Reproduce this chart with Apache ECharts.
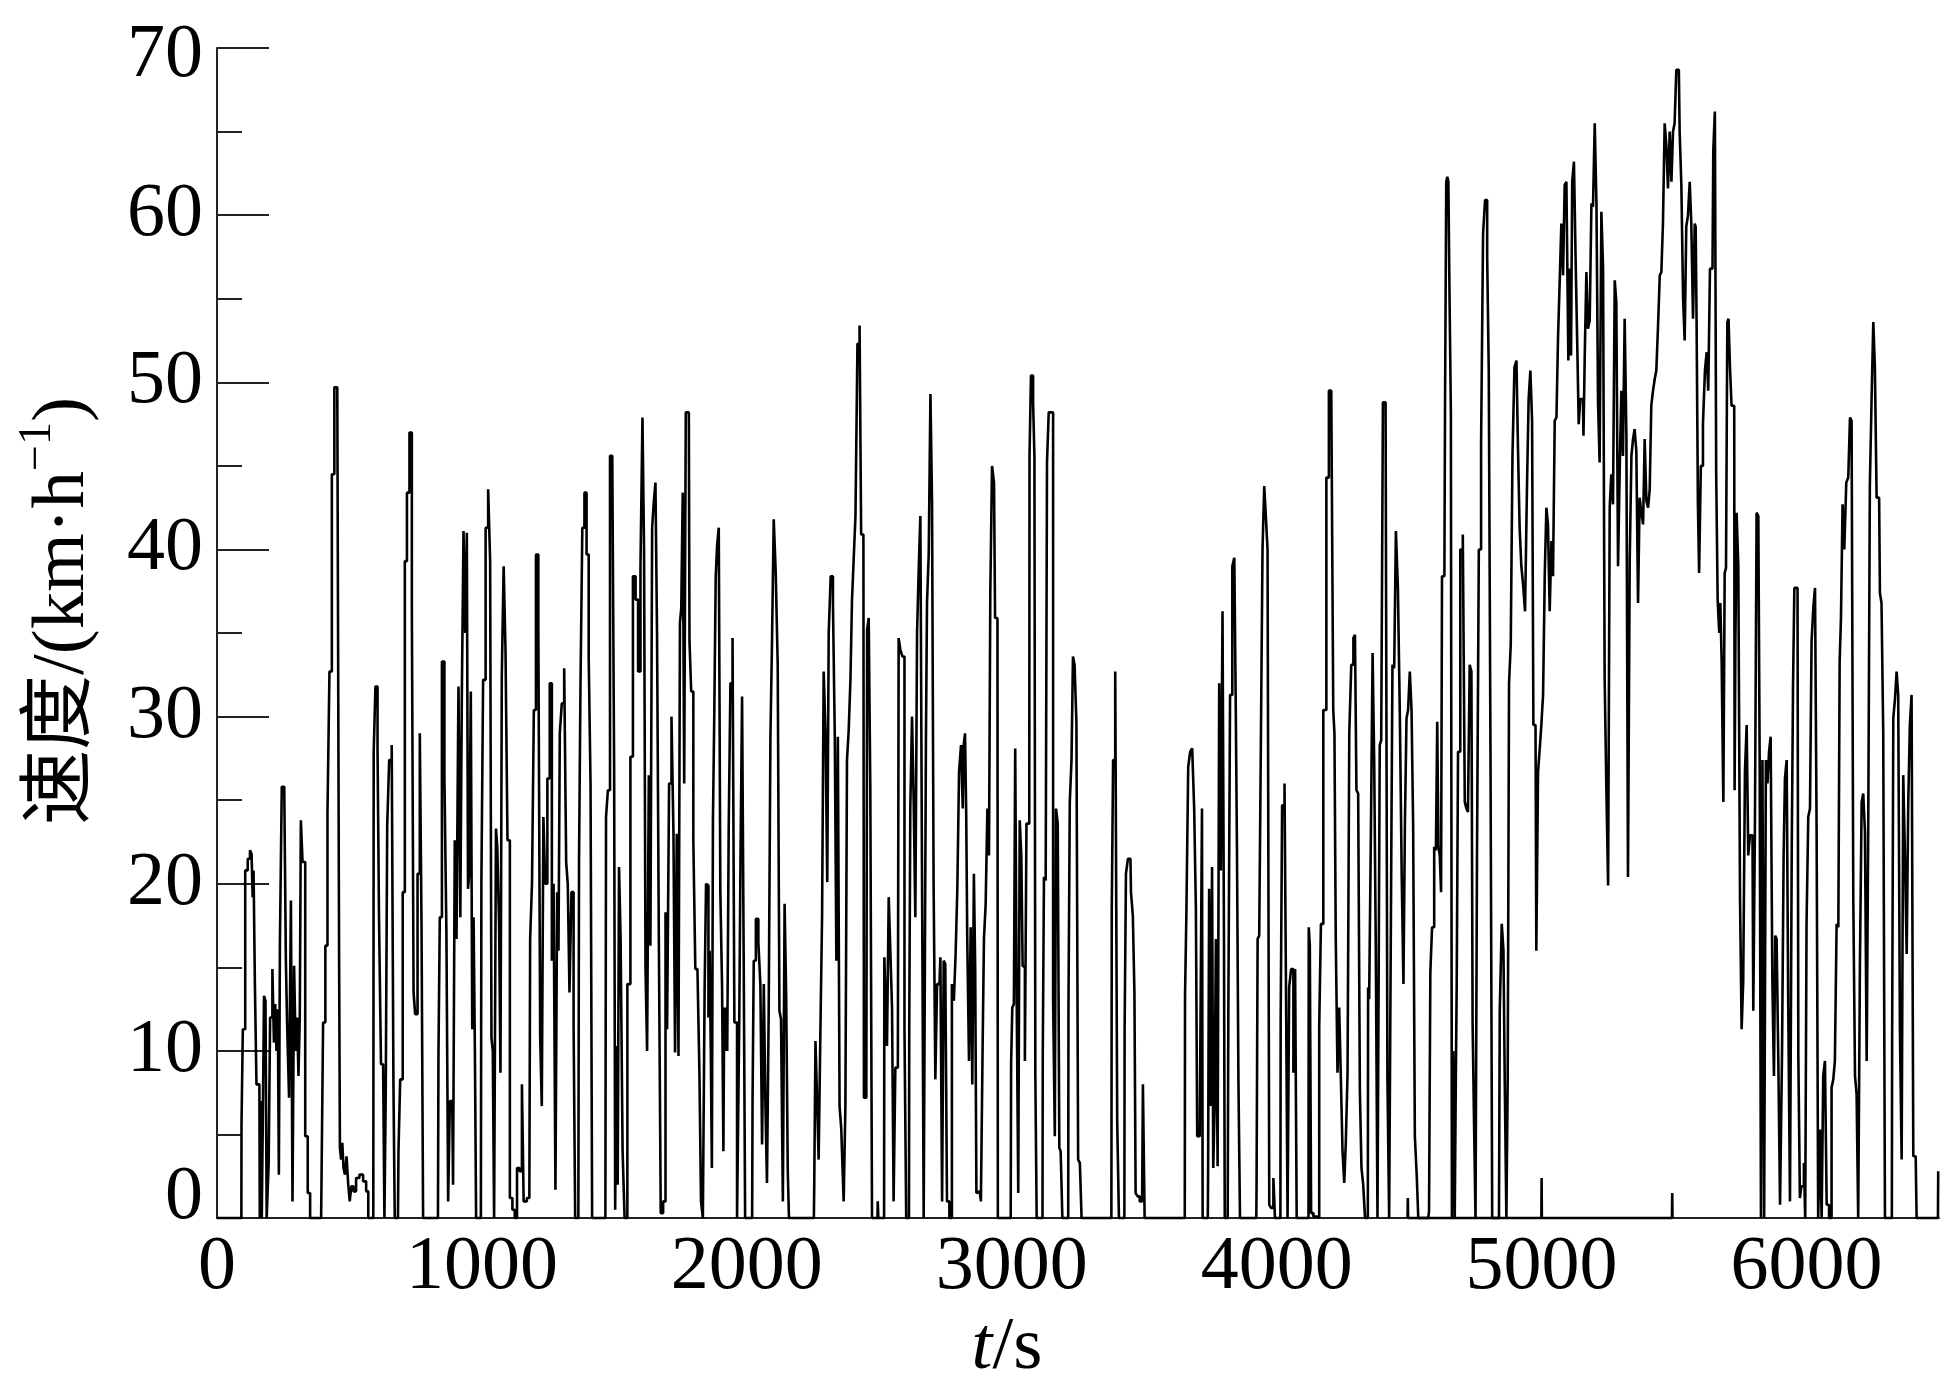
<!DOCTYPE html>
<html>
<head>
<meta charset="utf-8">
<script src="https://cdn.jsdelivr.net/npm/echarts@6/dist/echarts.min.js"></script>
<style>
html,body{margin:0;padding:0;background:#fff;}
#chart{width:1948px;height:1391px;}
</style>
</head>
<body>
<div id="chart"></div>
<script>
// speed trace, [t (s), v (km/h)], in time segments
const seg1 = [[0,0],[92,0],[93,5.6],[102,11.3],[111,20.8],[121,21.5],[128,22],[133,21.8],[136,19.2],[140,20.8],[146,14],[152,8],[160,8],[163,0],[167,7],[171,0],[175,6],[180,13.3],[186,13],[189,0],[194,0],[196,3.3],[205,12],[213,14.9],[217,10.5],[222,12.8],[227,10],[232,12.5],[235,2.6],[240,16.5],[249,25.8],[259,25.5],[261,15.4],[268,11.7],[276,7.2],[282,19],[288,1],[294,15.1],[300,10],[305,12],[310,8.5],[315,12],[318,23.8],[328,21.3],[338,4.9],[347,1.5],[356,0],[393,0],[397,3],[404,11.7],[414,16.3],[420,24.2],[429,32.7],[438,44.5],[448,49.7],[460,49.7],[462,15.1],[466,4.2],[471,3.5],[475,4.5],[480,3],[486,2.6],[492,3.7],[498,2.1],[504,1],[510,1.9],[520,1.6],[530,2.4],[545,2.6],[558,2.2],[568,1.6],[574,0],[590,0],[593,27.9],[603,31.8],[609,28],[614,18],[624,9.2],[630,9.2],[634,0],[640,7.6],[645,23.5],[655,27.4],[664,28.3],[668,8],[674,0],[683,0],[687,4],[696,8.3],[706,19.5],[712,39.3],[722,43.4],[731,47],[740,36.3],[744,13.5],[752,12.2],[762,20.6],[769,29],[775,17.6],[781,0],[834,0],[838,9.9],[844,18],[854,33.3],[863,26.3],[869,17],[876,1],[882,7],[888,7],[894,2],[901,22.6],[907,16.7],[916,31.8]];
const seg2 = [[921,18],[927,31],[934,41.1],[940,35],[946,41],[949,19.7],[955,20.6],[961,31.5],[966,11.3],[971,18],[976,10],[980,0],[996,0],[1000,20],[1009,32.2],[1019,41.3],[1028,43.6],[1034,39.3],[1038,10.8],[1044,10],[1048,0],[1052,0],[1054,23.3],[1062,22.2],[1068,17.4],[1072,8.7],[1078,32.4],[1086,39],[1092,34],[1101,22.6],[1110,1.2],[1120,0.5],[1128,0],[1137,3],[1147,2.8],[1155,8],[1160,1],[1179,1.2],[1185,16.7],[1193,20],[1199,30.4],[1209,39.7],[1217,35],[1223,10.8],[1229,6.7],[1235,24],[1243,20],[1251,26.3],[1261,32],[1267,15.4],[1274,20],[1281,1.7],[1287,19.5],[1291,16],[1297,29],[1306,30.8],[1315,32.9],[1321,21.3],[1327,20],[1334,13.5],[1342,19.5],[1350,11.7],[1354,0],[1364,0],[1369,21.3],[1375,31.8],[1383,41.3],[1391,43.4],[1399,39.7],[1407,33.6],[1413,26],[1419,0],[1466,0],[1471,24],[1480,25.6],[1487,45.6],[1497,45.6],[1501,27.2],[1505,0.5],[1510,10.3],[1515,2],[1520,21],[1527,16.7],[1535,4],[1542,0],[1556,14],[1565,27.6],[1575,38.4],[1585,37],[1594,32.7],[1603,39],[1609,47.9],[1615,40],[1620,14.9],[1627,10],[1633,26.5],[1639,16.3],[1646,41.3],[1652,42.9],[1658,44],[1664,35],[1672,16.3],[1678,0.3],[1690,1],[1696,18.3],[1702,11.3],[1711,26],[1720,30],[1726,23],[1732,9.9],[1739,23],[1745,9.7],[1750,35.6],[1755,36.5],[1761,43.4],[1766,26],[1773,48.2],[1781,48.2],[1786,34.5],[1794,31.5],[1802,22.6],[1809,14.9],[1818,14.9],[1824,8.7],[1830,1],[1838,0],[1843,13.5],[1849,20]];
const seg3 = [[1853,19.9],[1857,12],[1862,16],[1866,9.9],[1870,3],[1874,23.8],[1880,30],[1885,38.4],[1891,40.3],[1897,41.3],[1903,19.5],[1910,13.8],[1913,4],[1916,12.6],[1920,10],[1924,12.6],[1928,10],[1935,23.3],[1941,32],[1951,34.7],[1955,11.7],[1960,11.7],[1966,0],[1970,0],[1973,12],[1979,21.5],[1985,31.2],[1991,15.8],[1996,0],[2020,0],[2023,6.9],[2029,15.4],[2039,17.9],[2048,16.5],[2054,14],[2061,4.4],[2067,14],[2073,6.9],[2079,2.1],[2086,12.4],[2092,28.8],[2098,34.5],[2105,41.8],[2113,38.6],[2120,33.1],[2126,12.4],[2132,11.9],[2140,1],[2145,18.8],[2152,13.3],[2157,2.8],[2161,0],[2253,0],[2256,2.1],[2262,10.6],[2268,7.2],[2274,3.5],[2281,11],[2287,18.1],[2293,32.7],[2301,29],[2306,20.1],[2312,35],[2321,38.4],[2329,36.8],[2335,28.8],[2341,15.4],[2346,28.8],[2354,6.7],[2359,5.3],[2362,3.3],[2369,1],[2375,6.7],[2381,27.4],[2388,29.2],[2394,32.2],[2400,37],[2407,39.5],[2413,42],[2422,52.3],[2429,53.4],[2434,40.9],[2440,40.9],[2444,7.2],[2451,7.2],[2457,35.2],[2463,35.9],[2469,25.8],[2476,0],[2493,0],[2495,1],[2498,0],[2518,0],[2520,15.6],[2526,13.5],[2532,10.3],[2539,19.2],[2545,15.8],[2551,12.6],[2557,1],[2564,9],[2570,9],[2576,34.7],[2583,34],[2591,33.6],[2599,11.3],[2604,0],[2612,0],[2614,11.3],[2620,24.5],[2627,30],[2633,24.7],[2639,18],[2646,35],[2652,39],[2658,42],[2664,21.3],[2671,0],[2675,0],[2677,28.6],[2683,36.8],[2690,39.7],[2696,49.3],[2702,42.9],[2708,19.9],[2715,8.3],[2721,14],[2727,14],[2734,15.6],[2740,1],[2746,15.4],[2752,15.2],[2759,1],[2770,0],[2778,14]];
const seg4 = [[2785,13],[2791,15.8],[2798,19.7],[2804,26.7],[2813,28.3],[2817,24.5],[2820,28.3],[2827,29],[2829,24.2],[2835,16.7],[2842,9.4],[2848,17.4],[2854,8],[2860,20.6],[2864,14.9],[2869,1.5],[2879,1.6],[2888,1],[2892,10.3],[2898,16.7],[2905,18.8],[2911,24.5],[2917,21.7],[2921,37.4],[2930,45],[2936,44],[2938,35.9],[2946,35.9],[2949,0],[2996,0],[2999,9.2],[3005,12.6],[3011,12.8],[3015,28.1],[3022,13.3],[3027,1.5],[3033,23.8],[3039,21.7],[3043,15.1],[3047,15],[3052,9.4],[3059,23.6],[3066,23.6],[3068,45.6],[3077,50.4],[3084,48.8],[3087,45.6],[3091,8.5],[3097,0],[3116,0],[3118,9.7],[3125,20.4],[3131,20.2],[3135,45.2],[3144,48.2],[3152,48.2],[3160,13.1],[3165,4.9],[3169,24.5],[3178,23.6],[3181,4.2],[3188,4],[3194,0],[3213,0],[3215,12.6],[3223,24.9],[3228,27.4],[3234,33.6],[3240,33.1],[3248,29.7],[3253,3.5],[3261,3.3],[3266,0],[3376,0],[3379,18.5],[3386,27.4],[3395,32.7],[3401,5.8],[3408,0],[3425,0],[3427,11.3],[3435,20.6],[3442,21.5],[3448,21.5],[3452,19.5],[3462,18.1],[3464,13.5],[3471,1.5],[3479,1.3],[3487,1],[3492,1],[3498,8],[3505,0],[3653,0],[3655,13.3],[3663,18.1],[3669,27],[3678,27.9],[3684,28.1],[3693,24.5],[3697,18.5],[3703,4.9],[3716,4.9]];
const seg5 = [[3717,4.9],[3719,24.5],[3722,0],[3740,0],[3742,2.6],[3748,19.7],[3755,6.7],[3757,21],[3764,3],[3767,6.5],[3774,16.7],[3780,3.1],[3786,32],[3792,20.8],[3799,36.3],[3803,16.7],[3805,0],[3815,0],[3820,12.4],[3828,31.3],[3837,39],[3843,39.5],[3847,31.5],[3853,22.2],[3858,8.3],[3865,0],[3923,0],[3925,1.9],[3931,16.7],[3937,16.9],[3943,27.9],[3950,40],[3956,43.8],[3962,42],[3969,40],[3975,0.8],[3984,0.6],[3991,2.4],[3996,0],[4014,0],[4016,11.7],[4025,24.7],[4034,26],[4038,11.7],[4044,0],[4050,13.8],[4059,14.9],[4067,8.7],[4072,14.9],[4079,0],[4120,0],[4122,17.4],[4128,16.3],[4132,0.3],[4145,0.1],[4157,0],[4164,11.5],[4170,17.6],[4182,30.4],[4193,44.3],[4201,49.5],[4211,49.5],[4216,30.4],[4220,29],[4226,16.7],[4233,8.7],[4239,12.6],[4245,8.5],[4252,4],[4258,2.1],[4264,4.6],[4271,8.7],[4277,29],[4286,33.1],[4293,34.7],[4298,34.9],[4304,25.6],[4311,25.4],[4317,7.6],[4323,3],[4330,2],[4337,0],[4344,0],[4346,13.8],[4352,13.1],[4359,22.9],[4365,33.8],[4371,27.4],[4377,16.3],[4384,0],[4388,0],[4390,28.3],[4399,28.6],[4403,48.8],[4411,48.8],[4415,37],[4421,8.3],[4428,0],[4432,0],[4434,22.9],[4440,33.1],[4447,32.9],[4453,41.1],[4462,37.7],[4468,29.9],[4476,20.4],[4481,14],[4487,23.6],[4493,29.9],[4499,30.4],[4506,32.7],[4512,30.4],[4518,23.6],[4525,4.9],[4532,2.6],[4537,0],[4572,0],[4578,0.4],[4582,14.7],[4591,17.4],[4598,22.2],[4604,22],[4608,29.7],[4613,22.2],[4618,21.7],[4623,19.5],[4625,38.4],[4633,38.4],[4638,48.8],[4642,62],[4646,62.3]];
const seg6 = [[4650,62],[4655,55],[4660,48.2],[4663,0],[4670,10],[4674,0],[4678,8],[4681,14],[4688,27.9],[4698,40],[4707,40.9],[4713,24.9],[4719,24.5],[4725,24.3],[4732,33.1],[4738,32.7],[4741,11.7],[4748,6.2],[4753,0],[4759,21.5],[4767,40],[4776,46.3],[4782,58.9],[4791,60.9],[4798,57.5],[4803,50.7],[4811,27.9],[4816,0],[4839,0],[4845,12.4],[4854,17.6],[4858,16],[4864,8],[4870,0],[4874,8.3],[4880,32],[4887,34.3],[4893,45.6],[4902,50.9],[4908,51.3],[4914,45.9],[4920,41.3],[4927,39],[4933,37.9],[4942,36.3],[4948,44],[4954,49],[4961,50.7],[4967,47.7],[4971,29.5],[4977,29.5],[4983,16],[4990,26.7],[4996,28.1],[5002,29.5],[5009,31.3],[5015,38.6],[5021,42.5],[5027,41.5],[5034,36.3],[5040,40.5],[5046,38.4],[5053,47.7],[5059,47.9],[5065,52.7],[5071,55.9],[5078,59.5],[5084,56.4],[5090,61.8],[5097,62],[5105,51.3],[5109,56.8],[5113,51.6],[5118,62],[5126,63.2],[5132,56.8],[5137,52.3],[5143,47.5],[5149,49],[5156,49],[5160,46.8],[5166,51.8],[5172,56.6],[5178,53.2],[5185,53.7],[5191,60.7],[5197,60.5],[5204,65.5],[5210,60.7],[5216,48.8],[5222,45.2],[5229,60.2],[5235,56.8],[5241,32.2],[5248,25.6],[5254,19.9],[5260,42.5],[5266,44.5],[5273,42.7],[5279,56.1],[5285,54.8],[5292,39],[5298,45],[5304,49.5],[5310,45.6],[5317,53.8],[5323,46.8],[5329,20.4],[5336,39.3],[5342,45.6],[5348,46.6],[5354,47.2],[5361,45.9],[5367,36.8],[5373,43.1],[5380,42.2],[5386,41.5],[5392,46.6],[5399,42.9],[5405,42.5],[5411,43.6],[5417,48.6],[5424,49.5],[5430,50.2],[5436,50.7],[5443,53.4],[5449,56.4],[5455,56.6],[5461,59.5],[5468,65.5],[5474,64.1],[5480,61.6],[5487,65],[5493,62],[5499,65],[5505,65.5],[5512,68.7],[5518,68.7],[5524,65],[5531,61.8],[5537,55],[5543,52.5],[5549,59.3],[5556,60],[5562,62],[5568,59.5],[5575,53.8],[5581,59.5]];
const seg7 = [[5582,59.3],[5588,53.6],[5592,42.7],[5597,38.6],[5605,45],[5613,47.5],[5620,50.7],[5626,51.8],[5632,49.5],[5639,56.8],[5645,56.8],[5651,63.9],[5657,66.2],[5661,44.5],[5668,37],[5673,35],[5676,36.8],[5683,33.4],[5689,24.9],[5693,38.6],[5699,38.9],[5703,53.6],[5708,53.8],[5714,50.9],[5720,48.6],[5727,48.6],[5730,25.6],[5733,34.5],[5739,42.2],[5746,39],[5752,19],[5758,11.3],[5764,14.2],[5771,26.7],[5777,29.5],[5783,21.7],[5790,22.9],[5796,22.9],[5802,12.4],[5808,23.1],[5815,42.2],[5821,42],[5825,27.7],[5831,0],[5836,27.4],[5844,0],[5849,27.4],[5856,26],[5861,27.9],[5868,28.8],[5874,14.2],[5880,8.5],[5884,16.9],[5890,16.7],[5897,9.4],[5903,0.8],[5912,9.9],[5915,21.7],[5922,26.3],[5928,27.4],[5934,12.6],[5941,1],[5947,21.7],[5951,31.8],[5957,37.7],[5966,37.7],[5972,9.7],[5978,1.2],[5982,1.9],[5987,1.9],[5993,3.3],[5997,0],[6003,17.6],[6010,24],[6016,24.5],[6022,34.5],[6029,36.5],[6035,37.7],[6041,23.3],[6047,0],[6054,5.3],[6060,0],[6066,8.5],[6073,9.4],[6079,0.8],[6091,0],[6098,7.8],[6104,8.3],[6110,9.4],[6117,17.6],[6123,17.4],[6127,33.3],[6133,35.9],[6139,42.7],[6146,40],[6154,44],[6161,44.3],[6167,47.9],[6173,47.7],[6180,19],[6186,8.5],[6192,7.4],[6198,0],[6205,15.1],[6211,24.9],[6217,25.4],[6224,23.1],[6230,9.4],[6236,23.8],[6242,43.8],[6249,49],[6255,53.6],[6261,50.9],[6268,43.1],[6274,43.1],[6280,37.4],[6286,36.8],[6293,29],[6299,0],[6322,0],[6324,10.3],[6331,29.9],[6337,31.1],[6343,32.7],[6349,31.3],[6356,11.3],[6362,3.5],[6368,26.5],[6375,21.7],[6381,15.8],[6387,24.9],[6393,29.5],[6400,31.3],[6406,3.7],[6412,3.7],[6419,0],[6496,0],[6498,2.8]];
// short isolated marks standing on the time axis
const spikes = [[4494,0],[4495,1.2],[4496,0],[4999,0],[5000,2.4],[5001,0],[5492,0],[5493,1.5],[5494,0]];

const xRange = [0, 6500];
const yRange = [0, 70];
const xTickStep = 1000;
const yTickStep = 10;

const FONT = "'Liberation Serif','Times New Roman','Noto Sans CJK SC',serif";
const speed = [].concat(seg1, seg2, seg3, seg4, seg5, seg6, seg7);

const chart = echarts.init(document.getElementById('chart'), null, {renderer: 'canvas'});
chart.setOption({
  animation: false,
  backgroundColor: '#fff',
  grid: {left: 217, right: 9, top: 48, bottom: 161, containLabel: false},
  xAxis: {
    type: 'value', min: xRange[0], max: xRange[1], interval: xTickStep,
    name: '{i|t}/s', nameLocation: 'middle', nameGap: 72,
    nameTextStyle: {fontFamily: FONT, fontSize: 75, color: '#000', padding: [0, 142, 0, 0],
      rich: {i: {fontFamily: FONT, fontSize: 75, fontStyle: 'italic', color: '#000'}}},
    axisLine: {show: true, lineStyle: {color: '#222', width: 2}},
    axisTick: {show: false},
    splitLine: {show: false},
    axisLabel: {fontFamily: FONT, fontSize: 76, color: '#000', margin: 12, showMaxLabel: false,
      formatter: v => (v % xTickStep === 0 ? String(v) : '')}
  },
  yAxis: {
    type: 'value', min: yRange[0], max: yRange[1], interval: yTickStep,
    name: '{a|速度/(km·h}{s|−1}{a|)}', nameLocation: 'middle', nameRotate: 90, nameGap: 106,
    nameTextStyle: {fontFamily: FONT, fontSize: 75, color: '#000', padding: [0, 0, 0, 44],
      rich: {a: {fontFamily: FONT, fontSize: 75, color: '#000'},
             s: {fontFamily: FONT, fontSize: 46, color: '#000', padding: [0, 0, 50, 0]}}},
    axisLine: {show: true, lineStyle: {color: '#222', width: 2}},
    axisTick: {show: true, inside: true, length: 52, lineStyle: {color: '#222', width: 2}},
    minorTick: {show: true, splitNumber: 2, length: 25, lineStyle: {color: '#222', width: 2}},
    splitLine: {show: false},
    minorSplitLine: {show: false},
    axisLabel: {fontFamily: FONT, fontSize: 76, color: '#000', margin: 14,
      formatter: v => (v === 0 ? '{z|0}' : v === 70 ? '{t|70}' : '{n|' + v + '}'),
      rich: {z: {fontFamily: FONT, fontSize: 76, color: '#000', padding: [0, 0, 40, 0]},
             t: {fontFamily: FONT, fontSize: 76, color: '#000', padding: [16, 0, 0, 0]},
             n: {fontFamily: FONT, fontSize: 76, color: '#000'}}}
  },
  series: [
    {type: 'line', data: speed, step: 'middle', showSymbol: false, symbol: 'none', silent: true,
     lineStyle: {color: '#000', width: 2.6}, z: 3},
    {type: 'line', data: spikes, showSymbol: false, symbol: 'none', silent: true,
     lineStyle: {color: '#000', width: 2.6}, z: 3}
  ]
});
</script>
</body>
</html>
